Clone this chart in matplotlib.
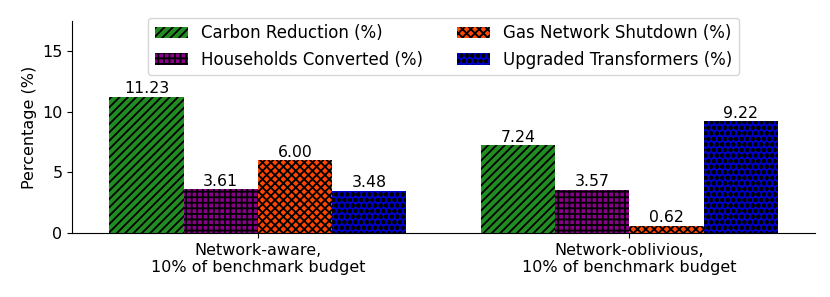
import matplotlib
matplotlib.use("Agg")
import matplotlib.pyplot as plt
import numpy as np

groups = ["Network-aware,\n10% of benchmark budget", "Network-oblivious,\n10% of benchmark budget"]
series = ["Carbon Reduction (%)", "Households Converted (%)", "Gas Network Shutdown (%)", "Upgraded Transformers (%)"]
carbon = [11.23, 7.24]
households = [3.61, 3.57]
gas = [6.00, 0.62]
transformers = [3.48, 9.22]

colors = ["forestgreen", "darkmagenta", "orangered", "mediumblue"]
hatches = ["////", "+++", "xxxx", "ooo"]

plt.rcParams["hatch.linewidth"] = 1.3
fig, ax = plt.subplots(figsize=(8.3, 2.97), dpi=100)
x = np.arange(len(groups))
w = 0.2
offsets = [-1.5, -0.5, 0.5, 1.5]
for vals, name, c, h, off in zip([carbon, households, gas, transformers], series, colors, hatches, offsets):
    bars = ax.bar(x + off * w, vals, w, color=c, hatch=h, edgecolor="black", linewidth=0, label=name)
    for b, v in zip(bars, vals):
        ax.text(b.get_x() + b.get_width() / 2, v + 0.05, f"{v:.2f}", ha="center", va="bottom", fontsize=11.3)

ax.set_xticks(x)
ax.set_xticklabels(groups, fontsize=11.5)
ax.set_xlim(-0.5, 1.5)
ax.set_ylim(0, 17.5)
ax.set_yticks([0, 5, 10, 15])
ax.tick_params(axis="y", labelsize=11.5)
ax.set_ylabel("Percentage (%)", fontsize=11.5)
ax.spines["top"].set_visible(False)
ax.spines["right"].set_visible(False)
ax.legend(ncol=2, loc="upper center", fontsize=12, handlelength=2.0, columnspacing=2.0,
          borderaxespad=0.2, bbox_to_anchor=(0.5, 1.03))
fig.subplots_adjust(left=0.087, right=0.982, bottom=0.215, top=0.93)
fig.savefig("out.png", dpi=100)
